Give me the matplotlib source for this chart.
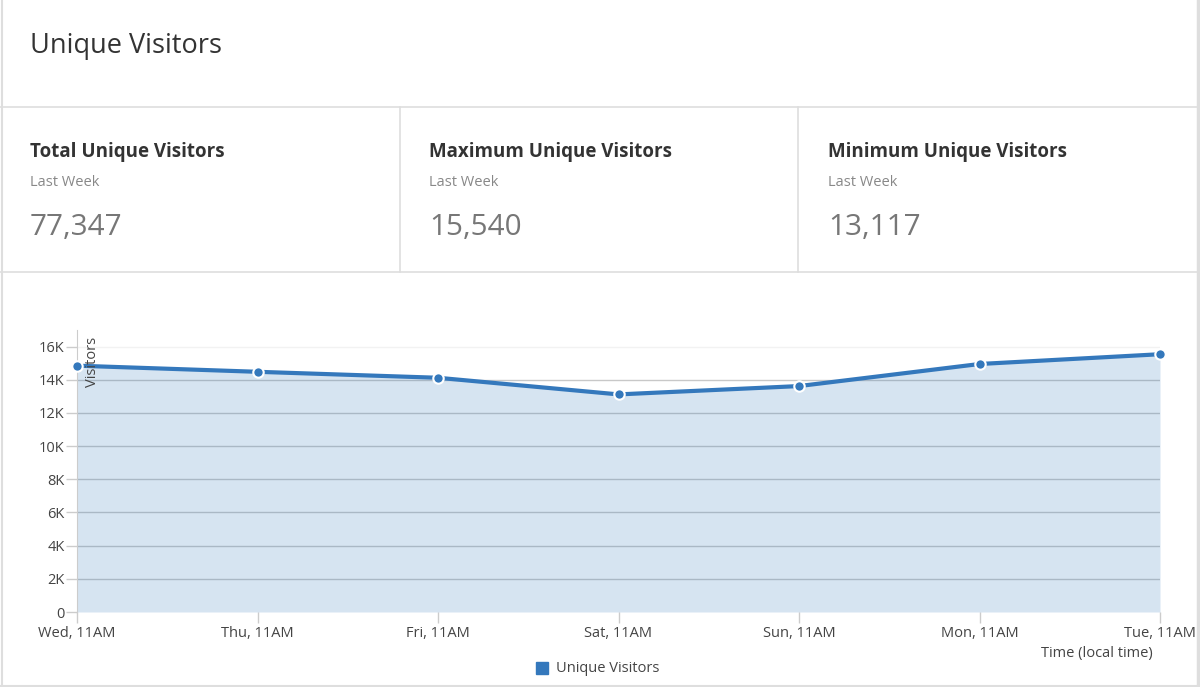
import matplotlib.pyplot as plt
import numpy as np

plt.rcParams['font.family'] = ['Open Sans', 'DejaVu Sans']

days = ['Wed, 11AM', 'Thu, 11AM', 'Fri, 11AM', 'Sat, 11AM', 'Sun, 11AM', 'Mon, 11AM', 'Tue, 11AM']
visitors = [14850, 14480, 14120, 13117, 13620, 14950, 15540]
yticks = [0, 2000, 4000, 6000, 8000, 10000, 12000, 14000, 16000]
ytick_labels = ['0', '2K', '4K', '6K', '8K', '10K', '12K', '14K', '16K']

card_titles = ['Total Unique Visitors', 'Maximum Unique Visitors', 'Minimum Unique Visitors']
card_values = ['77,347', '15,540', '13,117']

W, H = 1200, 687
fig = plt.figure(figsize=(W / 100, H / 100), dpi=100)

def px(x, y):
    return x / W, 1 - y / H

def hline(y, x0=0, x1=W, c='#dedede', lw=1.2):
    fig.add_artist(plt.Line2D([x0 / W, x1 / W], [1 - y / H, 1 - y / H], color=c, lw=lw))

def vline(x, y0=0, y1=H, c='#dedede', lw=1.2):
    fig.add_artist(plt.Line2D([x / W, x / W], [1 - y0 / H, 1 - y1 / H], color=c, lw=lw))

# panel frame
vline(2, lw=1.5)
vline(1198, lw=2.5)
hline(686, lw=1.5)
hline(107)
hline(272)
vline(400, 107, 272)
vline(798, 107, 272)

fig.text(*px(30, 46), 'Unique Visitors', fontsize=19.5, color='#333333', va='center')

for i, (t, v) in enumerate(zip(card_titles, card_values)):
    x = 30 + i * 399
    fig.text(*px(x, 152), t, fontsize=13.5, fontweight='bold', color='#333333', va='center')
    fig.text(*px(x, 182), 'Last Week', fontsize=10.5, color='#888888', va='center')
    fig.text(*px(x, 227), v, fontsize=21.3, color='#777777', va='center')

# chart
l, r, t, b = 77, 1160, 330, 612
ax = fig.add_axes([l / W, 1 - b / H, (r - l) / W, (b - t) / H])
x = np.arange(len(days))
blue = '#3478bc'
ax.fill_between(x, visitors, 0, color=blue, alpha=0.2, lw=0, zorder=2)
ax.plot(x, visitors, color=blue, lw=3, zorder=3)
ax.plot(x, visitors, 'o', color=blue, ms=7.5, mec='white', mew=1.5, zorder=4, clip_on=False)

ax.set_xlim(0, len(days) - 1)
ax.set_ylim(0, 17000)
ax.set_yticks(yticks)
ax.set_yticklabels(ytick_labels)
ax.set_xticks(x)
ax.set_xticklabels(days)
for yv in yticks[1:]:
    ax.axhline(yv, color='#c8c8c8' if yv < 16000 else '#f2f2f2', lw=1, zorder=1)

for s in ['top', 'right', 'bottom']:
    ax.spines[s].set_visible(False)
ax.spines['left'].set_color('#cccccc')
ax.tick_params(axis='both', colors='#cccccc', length=8, width=1, labelcolor='#444444', labelsize=10.5)
ax.tick_params(axis='x', pad=2)
ax.tick_params(axis='y', pad=1)

fig.text(*px(92, 362), 'Visitors', rotation=90, fontsize=10.5, color='#444444', ha='center', va='center')
fig.text(*px(1153, 654), 'Time (local time)', fontsize=10.5, color='#444444', ha='right', va='center')

fig.add_artist(plt.Rectangle(px(536, 674), 12 / W, 12 / H, color=blue))
fig.text(*px(556, 668), 'Unique Visitors', fontsize=10.5, color='#444444', va='center')

fig.savefig('out.png', dpi=100)
